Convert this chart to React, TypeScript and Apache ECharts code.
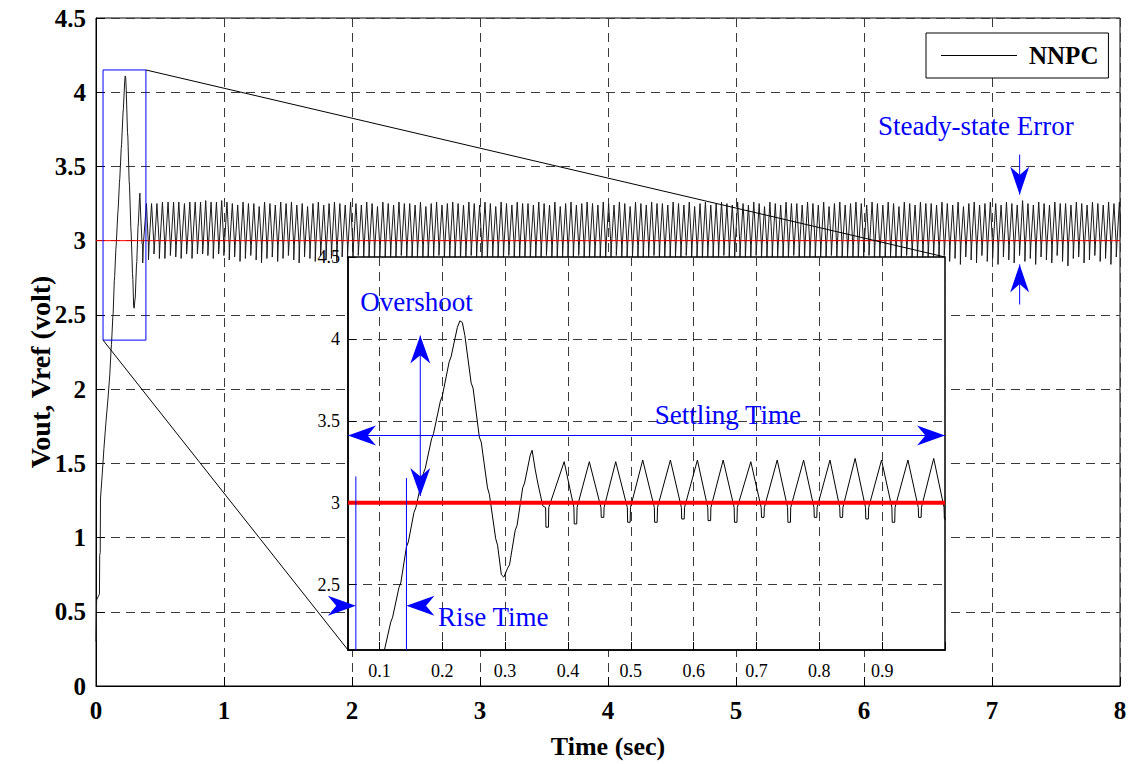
import React, { useEffect, useRef } from 'react';
import * as echarts from 'echarts';

// ---------- data ----------
// transient response (time s, volt)
const transientTime = [
  0.0, 0.004, 0.005, 0.027, 0.029, 0.033, 0.035, 0.048, 0.062, 0.078, 0.094, 0.108,
  0.118, 0.121, 0.131, 0.134, 0.143, 0.146, 0.155, 0.158, 0.17, 0.173, 0.183, 0.186,
  0.197, 0.2, 0.211, 0.214, 0.224, 0.228, 0.232, 0.236, 0.246, 0.249, 0.259, 0.262,
  0.272, 0.275, 0.285, 0.288, 0.294, 0.298, 0.304, 0.307, 0.316, 0.319, 0.328, 0.331,
  0.34, 0.343, 0.348, 0.352, 0.36,
];
const transientVolt = [
  0.3, 0.3, 0.58, 0.62, 0.88, 0.9, 1.26, 1.42, 1.6, 1.78, 1.94, 2.1,
  2.27, 2.3, 2.48, 2.51, 2.73, 2.76, 2.94, 2.97, 3.18, 3.21, 3.39, 3.42,
  3.62, 3.65, 3.86, 3.89, 4.07, 4.11, 4.1, 4.02, 3.73, 3.7, 3.4, 3.37,
  3.09, 3.05, 2.78, 2.74, 2.56, 2.545, 2.6, 2.62, 2.83, 2.86, 3.09, 3.12,
  3.29, 3.32, 3.2, 3.12, 2.98,
];
// early oscillation cycles (visible in the inset)
const insetTroughTime = [0.367, 0.412, 0.455, 0.497, 0.54, 0.583, 0.625, 0.667, 0.71, 0.752, 0.794, 0.835, 0.876, 0.918, 0.96, 1.001];
const insetTroughVolt = [2.85, 2.87, 2.91, 2.88, 2.88, 2.9, 2.89, 2.88, 2.91, 2.88, 2.91, 2.91, 2.9, 2.88, 2.91, 2.9];
const insetPeakTime = [0.394, 0.434, 0.476, 0.519, 0.563, 0.606, 0.647, 0.691, 0.733, 0.775, 0.817, 0.857, 0.899, 0.941, 0.982];
const insetPeakVolt = [3.25, 3.25, 3.25, 3.26, 3.26, 3.26, 3.26, 3.25, 3.26, 3.26, 3.26, 3.27, 3.26, 3.26, 3.27];
// steady-state cycles from 1 s to 8 s (one peak and one trough per cycle)
const steadyPeakVolt = [
  3.26, 3.25, 3.24, 3.26, 3.25, 3.25, 3.23, 3.26, 3.25, 3.24,
  3.26, 3.25, 3.26, 3.24, 3.25, 3.23, 3.25, 3.26, 3.24, 3.25,
  3.26, 3.25, 3.24, 3.26, 3.25, 3.24, 3.26, 3.25, 3.23, 3.26,
  3.25, 3.24, 3.26, 3.25, 3.25, 3.24, 3.26, 3.23, 3.25, 3.26,
  3.24, 3.25, 3.26, 3.25, 3.24, 3.26, 3.25, 3.24, 3.26, 3.25,
  3.23, 3.26, 3.25, 3.24, 3.26, 3.25, 3.25, 3.24, 3.26, 3.25,
  3.24, 3.26, 3.23, 3.25, 3.26, 3.24, 3.25, 3.26, 3.25, 3.24,
  3.26, 3.25, 3.24, 3.26, 3.25, 3.23, 3.26, 3.25, 3.24, 3.26,
  3.25, 3.25, 3.24, 3.26, 3.25, 3.24, 3.26, 3.23, 3.25, 3.26,
  3.24, 3.25, 3.26, 3.25, 3.24, 3.26, 3.25, 3.24, 3.26, 3.25,
  3.23, 3.26, 3.25, 3.24, 3.26, 3.25, 3.25, 3.24, 3.26, 3.25,
  3.24, 3.26, 3.23, 3.25, 3.26, 3.24, 3.25, 3.26, 3.25, 3.24,
  3.26, 3.25, 3.24, 3.26, 3.25, 3.23, 3.26, 3.25, 3.24, 3.26,
  3.25, 3.25, 3.24, 3.26, 3.25, 3.24, 3.26, 3.23, 3.25, 3.26,
  3.24, 3.25, 3.26, 3.25, 3.24, 3.26, 3.25, 3.24, 3.27, 3.25,
  3.24, 3.26, 3.25, 3.24, 3.26, 3.25, 3.25, 3.24, 3.26, 3.25,
  3.24, 3.26, 3.25, 3.24, 3.26, 3.25, 3.26,
];
const steadyTroughVolt = [
  2.87, 2.89, 2.86, 2.88, 2.9, 2.87, 2.85, 2.88, 2.89, 2.86,
  2.88, 2.9, 2.87, 2.85, 2.89, 2.88, 2.86, 2.9, 2.87, 2.88,
  2.86, 2.89, 2.88, 2.85, 2.9, 2.87, 2.88, 2.86, 2.89, 2.87,
  2.85, 2.88, 2.9, 2.86, 2.87, 2.89, 2.85, 2.88, 2.87, 2.9,
  2.86, 2.88, 2.89, 2.85, 2.87, 2.9, 2.86, 2.88, 2.87, 2.89,
  2.85, 2.87, 2.9, 2.88, 2.86, 2.89, 2.87, 2.85, 2.88, 2.9,
  2.86, 2.87, 2.89, 2.85, 2.88, 2.9, 2.86, 2.87, 2.89, 2.88,
  2.85, 2.87, 2.9, 2.86, 2.88, 2.89, 2.85, 2.87, 2.88, 2.9,
  2.86, 2.88, 2.85, 2.89, 2.87, 2.9, 2.86, 2.88, 2.85, 2.89,
  2.87, 2.86, 2.9, 2.88, 2.85, 2.89, 2.87, 2.86, 2.9, 2.88,
  2.85, 2.87, 2.89, 2.86, 2.88, 2.9, 2.85, 2.87, 2.89, 2.86,
  2.88, 2.85, 2.9, 2.87, 2.86, 2.89, 2.88, 2.85, 2.87, 2.9,
  2.86, 2.88, 2.84, 2.89, 2.87, 2.85, 2.9, 2.86, 2.88, 2.84,
  2.89, 2.87, 2.85, 2.9, 2.86, 2.88, 2.84, 2.89, 2.87, 2.85,
  2.9, 2.86, 2.88, 2.84, 2.89, 2.87, 2.85, 2.9, 2.86, 2.88,
  2.84, 2.89, 2.87, 2.85, 2.9, 2.86, 2.83, 2.88, 2.89, 2.85,
  2.87, 2.9, 2.86, 2.88, 2.84, 2.89, 2.87,
];
const vrefVolt = 3.0;
const steadyStart = 1.001; // time of last inset trough
const cyclePeriod = 0.042;
const peakOffset = 0.022;
const notchShoulder = 2.97;

// ---------- helpers ----------
const FONT = '"Liberation Serif", "Times New Roman", serif';
const BLUE = '#0000ff';

function buildSignal(): number[][] {
  const pts: number[][] = transientTime.map((t, i) => [t, transientVolt[i]]);
  const notch = (tt: number, tv: number) => {
    pts.push([tt - 0.0025, notchShoulder], [tt - 0.002, tv], [tt + 0.002, tv], [tt + 0.0025, notchShoulder]);
  };
  for (let i = 0; i < insetTroughTime.length; i++) {
    notch(insetTroughTime[i], insetTroughVolt[i]);
    if (i < insetPeakTime.length) pts.push([insetPeakTime[i], insetPeakVolt[i]]);
  }
  for (let k = 0; k < steadyPeakVolt.length; k++) {
    const t0 = steadyStart + k * cyclePeriod;
    pts.push([t0 + peakOffset, steadyPeakVolt[k]]);
    notch(t0 + cyclePeriod, steadyTroughVolt[k]);
  }
  return pts;
}

function head(tip: number[], dir: number[], L = 28, W = 20): any {
  const [dx, dy] = dir;
  const px = -dy, py = dx;
  const [x, y] = tip;
  return {
    type: 'polygon',
    z: 10,
    shape: {
      points: [
        [x, y],
        [x - dx * L + (px * W) / 2, y - dy * L + (py * W) / 2],
        [x - dx * L * 0.7, y - dy * L * 0.7],
        [x - dx * L - (px * W) / 2, y - dy * L - (py * W) / 2],
      ],
    },
    style: { fill: BLUE },
  };
}

function seg(a: number[], b: number[], color: string, z: number, w = 1): any {
  return { type: 'line', z, shape: { x1: a[0], y1: a[1], x2: b[0], y2: b[1] }, style: { stroke: color, lineWidth: w } };
}

function label(p: number[], text: string, size = 27): any {
  return {
    type: 'text',
    z: 10,
    x: p[0],
    y: p[1],
    style: {
      text,
      x: 0,
      y: 0,
      fill: BLUE,
      fontSize: size,
      fontFamily: FONT,
      align: 'left',
      verticalAlign: 'middle',
      textAlign: 'left',
      textVerticalAlign: 'middle',
    },
  };
}

export default function App() {
  const ref = useRef<HTMLDivElement>(null);

  useEffect(() => {
    if (!ref.current) return;
    const chart = echarts.init(ref.current, undefined, { renderer: 'svg' });
    const signal = buildSignal();
    const insetSignal = signal.filter((p) => p[0] <= 1.03);

    const dashed = { show: true, lineStyle: { color: '#3a3a3a', type: [9, 6], width: 1 } };
    const mainLabel = { color: '#000', fontFamily: FONT, fontWeight: 'bold', fontSize: 25 };
    const insetLabel = { color: '#000', fontFamily: FONT, fontSize: 18 };

    chart.setOption({
      animation: false,
      backgroundColor: '#fff',
      legend: {
        data: [{ name: 'NNPC', icon: 'rect' }],
        left: 926,
        top: 33,
        backgroundColor: '#fff',
        borderColor: '#000',
        borderWidth: 1,
        borderRadius: 0,
        padding: [10, 10, 10, 15],
        itemWidth: 76,
        itemHeight: 1,
        z: 6,
        itemStyle: { color: '#000', borderWidth: 0 },
        lineStyle: { width: 0 },
        textStyle: { color: '#000', fontFamily: FONT, fontWeight: 'bold', fontSize: 25, padding: [0, 0, 0, 7] },
      },
      grid: [
        { left: 96, top: 18, right: 13, bottom: 76, show: true, borderColor: '#000', borderWidth: 1, backgroundColor: 'transparent' },
        { left: 348, top: 257, width: 597, height: 393, show: true, borderColor: '#000', borderWidth: 1.5, backgroundColor: '#fff', z: 3 },
      ],
      xAxis: [
        {
          type: 'value', gridIndex: 0, min: 0, max: 8, interval: 1,
          axisLine: { show: true, onZero: false, lineStyle: { color: '#000', width: 1 } },
          axisTick: { show: true, inside: true, length: 9, lineStyle: { color: '#000' } },
          axisLabel: { ...mainLabel, margin: 12 },
          splitLine: dashed,
          name: 'Time (sec)', nameLocation: 'middle', nameGap: 47,
          nameTextStyle: { color: '#000', fontFamily: FONT, fontWeight: 'bold', fontSize: 26 },
        },
        {
          type: 'value', gridIndex: 1, min: 0.05, max: 1.0, splitNumber: 10, z: 5,
          axisLine: { show: true, onZero: false, lineStyle: { color: '#000', width: 1.5 } },
          axisTick: { show: true, inside: true, length: 8, lineStyle: { color: '#000' } },
          axisLabel: { ...insetLabel, margin: 12, formatter: (v: number) => (v < 0.075 || v > 0.95 ? '' : v.toFixed(1)) },
          splitLine: dashed,
        },
      ],
      yAxis: [
        {
          type: 'value', gridIndex: 0, min: 0, max: 4.5, interval: 0.5,
          axisLine: { show: true, onZero: false, lineStyle: { color: '#000', width: 1 } },
          axisTick: { show: true, inside: true, length: 9, lineStyle: { color: '#000' } },
          axisLabel: { ...mainLabel, margin: 10 },
          splitLine: dashed,
        },
        {
          type: 'value', gridIndex: 1, min: 2.1, max: 4.5, splitNumber: 5, z: 5,
          axisLine: { show: true, onZero: false, lineStyle: { color: '#000', width: 1.5 } },
          axisTick: { show: true, inside: true, length: 8, lineStyle: { color: '#000' } },
          axisLabel: { ...insetLabel, margin: 8, formatter: (v: number) => (v < 2.4 ? '' : String(Math.round(v * 10) / 10)) },
          splitLine: dashed,
        },
      ],
      series: [
        {
          name: 'NNPC', type: 'line', xAxisIndex: 0, yAxisIndex: 0, data: signal,
          symbol: 'none', showSymbol: false, z: 1,
          lineStyle: { color: '#1a1a1a', width: 1 }, itemStyle: { color: '#000' },
        },
        {
          name: 'Vref', type: 'line', xAxisIndex: 0, yAxisIndex: 0, data: [[0, vrefVolt], [8, vrefVolt]],
          symbol: 'none', z: 2, lineStyle: { color: '#ff0000', width: 1 },
        },
        {
          name: 'NNPC (zoom)', type: 'line', xAxisIndex: 1, yAxisIndex: 1, data: insetSignal,
          symbol: 'none', z: 6, lineStyle: { color: '#000', width: 1 },
        },
        {
          name: 'Vref (zoom)', type: 'line', xAxisIndex: 1, yAxisIndex: 1, data: [[0.05, vrefVolt], [1.0, vrefVolt]],
          symbol: 'none', z: 7, lineStyle: { color: '#ff0000', width: 4 },
        },
      ],
    });

    const pm = (p: number[]) => chart.convertToPixel({ xAxisIndex: 0, yAxisIndex: 0 }, p) as number[];
    const pi = (p: number[]) => chart.convertToPixel({ xAxisIndex: 1, yAxisIndex: 1 }, p) as number[];

    const boxTL = pm([0.055, 4.15]);
    const boxBR = pm([0.39, 2.33]);
    const insTR = pi([1.0, 4.5]);
    const insBL = pi([0.05, 2.1]);

    const osTop = pi([0.165, 4.02]);
    const osBot = pi([0.165, 3.04]);
    const stL = pi([0.05, 3.41]);
    const stR = pi([1.0, 3.41]);
    const r1a = pi([0.0625, 2.1]);
    const r1b = pi([0.0625, 3.16]);
    const r2a = pi([0.143, 2.1]);
    const r2b = pi([0.143, 3.15]);
    const rTipL = pi([0.0625, 2.37]);
    const rTipR = pi([0.143, 2.37]);
    const ssTop = pm([7.216, 3.58]);
    const ssTipD = pm([7.216, 3.31]);
    const ssTipU = pm([7.216, 2.84]);
    const ssBot = pm([7.216, 2.57]);

    const elements: any[] = [
      {
        type: 'rect', z: 3,
        shape: { x: boxTL[0], y: boxTL[1], width: boxBR[0] - boxTL[0], height: boxBR[1] - boxTL[1] },
        style: { fill: 'none', stroke: BLUE, lineWidth: 1 },
      },
      seg([boxBR[0], boxTL[1]], insTR, '#000', 3),
      seg([boxTL[0], boxBR[1]], insBL, '#000', 3),
      // overshoot
      seg(osTop, osBot, BLUE, 10),
      head(osTop, [0, -1]),
      head(osBot, [0, 1]),
      // settling time
      seg(stL, stR, BLUE, 10),
      head(stL, [-1, 0]),
      head(stR, [1, 0]),
      // rise time
      seg(r1a, r1b, BLUE, 10),
      seg(r2a, r2b, BLUE, 10),
      head(rTipL, [1, 0]),
      head(rTipR, [-1, 0]),
      // steady-state error
      seg(ssTop, ssTipD, BLUE, 10),
      head(ssTipD, [0, 1], 28, 19),
      seg(ssTipU, ssBot, BLUE, 10),
      head(ssTipU, [0, -1], 28, 19),
      label(pi([0.0696, 4.224]), 'Overshoot'),
      label(pi([0.1934, 2.303]), 'Rise Time'),
      label(pi([0.538, 3.535]), 'Settling Time'),
      label(pm([6.11, 3.77]), 'Steady-state Error'),
      {
        type: 'text', z: 10, x: 40, y: 372, rotation: Math.PI / 2,
        style: {
          text: 'Vout, Vref (volt)', x: 0, y: 0, fill: '#000', fontSize: 28, fontWeight: 'bold', fontFamily: FONT,
          align: 'center', verticalAlign: 'middle', textAlign: 'center', textVerticalAlign: 'middle',
        },
      },
    ];
    chart.setOption({ graphic: { elements } });

    return () => chart.dispose();
  }, []);

  return (
    <div
      ref={ref}
      style={{ position: 'fixed', left: 0, top: 0, width: 1133, height: 764, background: '#fff' }}
    />
  );
}
